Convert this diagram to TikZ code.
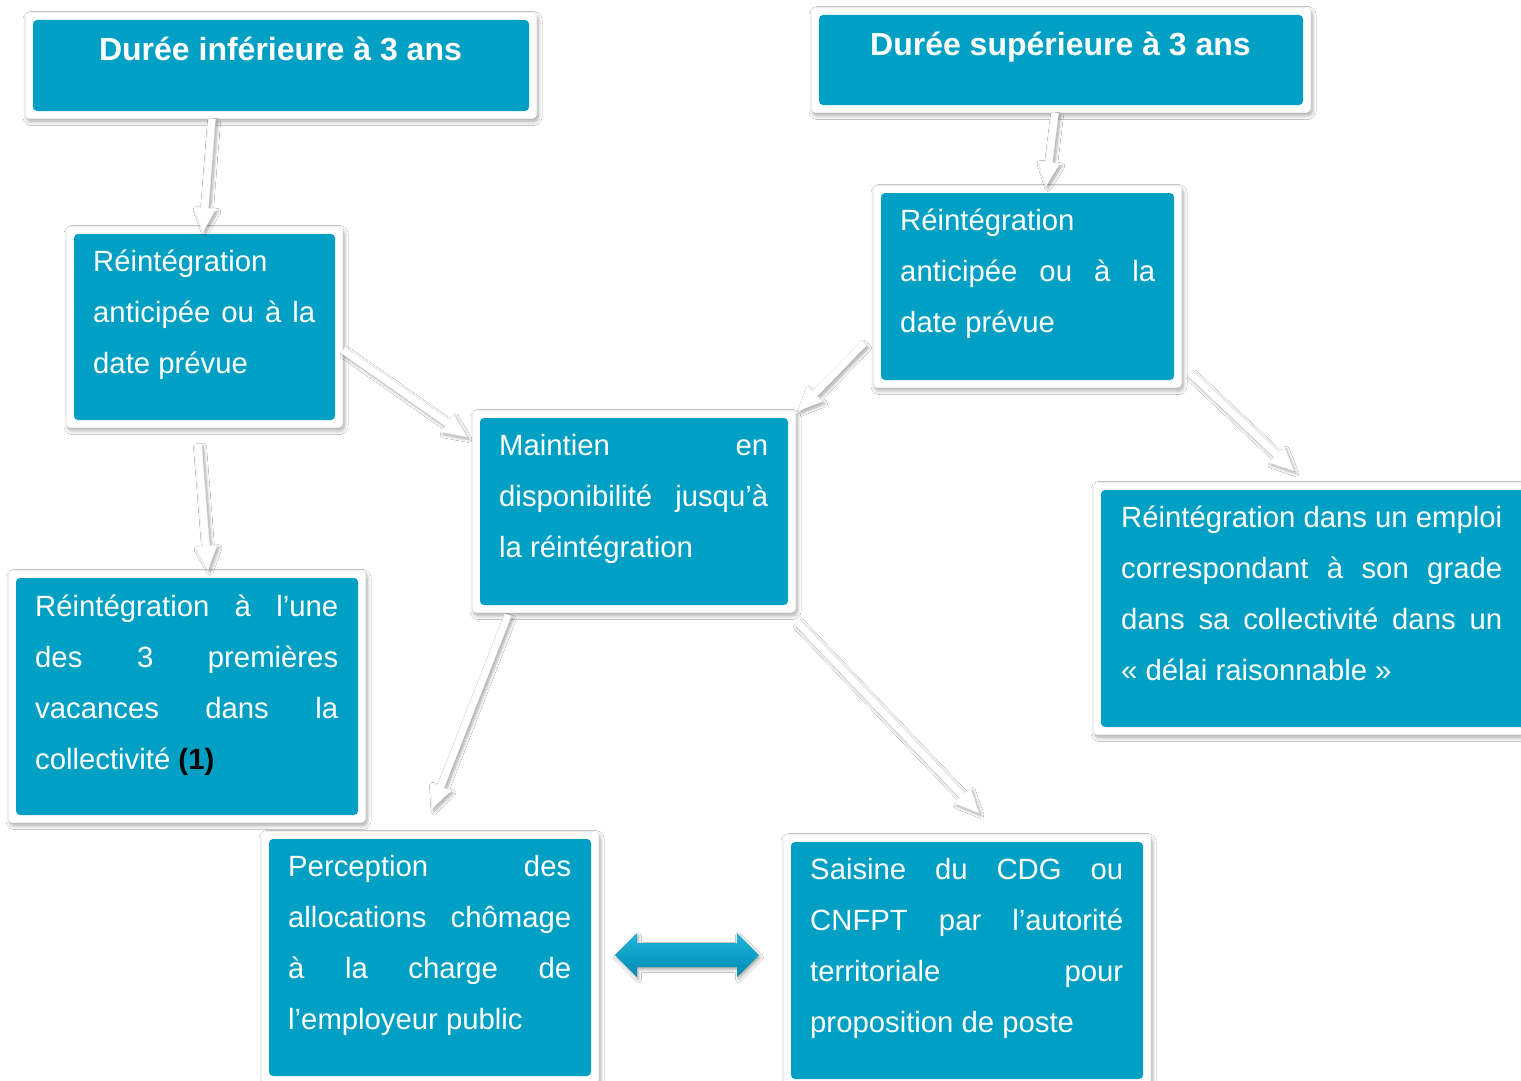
\documentclass[tikz,border=0pt]{standalone}
\usepackage{fontspec}
\setmainfont{Liberation Sans}
\usetikzlibrary{arrows.meta,calc,shadows,shadows.blur}
\definecolor{boxblue}{RGB}{0,160,196}
\definecolor{dblight}{RGB}{30,182,218}
\definecolor{dbdark}{RGB}{0,138,178}
\newcommand\jline[1]{\hbox to\linewidth{#1}}
\newcommand\lline[1]{\hbox{#1}}
\newcommand\bodytext[2]{\begin{minipage}[t]{#1}\fontsize{29.3}{51}\selectfont #2\end{minipage}}
\tikzset{
  box/.style={rectangle, fill=white, draw=black!6, line width=0.6pt, rounded corners=4pt, inner sep=0pt,
    blur shadow={shadow xshift=1.5pt, shadow yshift=-3pt, shadow blur radius=4pt, shadow blur steps=8, shadow opacity=35},
    path picture={\fill[boxblue] ([xshift=7.5pt,yshift=-7.5pt]path picture bounding box.north west)
      rectangle ([xshift=-7.5pt,yshift=7.5pt]path picture bounding box.south east);}},
  titletext/.style={anchor=base, inner sep=0pt, text=white, font=\bfseries\fontsize{32}{38}\selectfont},
  bodynode/.style={anchor=base west, inner sep=0pt, text=white},
  arrbody/.style={fill=white, draw=black!5, line width=0.4pt, line join=miter,
    blur shadow={shadow xshift=2pt, shadow yshift=-2.5pt, shadow blur radius=3pt, shadow blur steps=8, shadow opacity=35}}
}
% white block arrow from #1 to #2 (names of coordinates)
\newcommand\wharrow[2]{%
  \coordinate (#1h) at ($(#2)!24pt!(#1)$);
  \path[arrbody] ($(#1)!3.5pt!90:(#2)$) -- ($(#1h)!3.5pt!90:(#2)$) -- ($(#1h)!11pt!90:(#2)$)
    -- (#2) -- ($(#1h)!11pt!-90:(#2)$) -- ($(#1h)!3.5pt!-90:(#2)$) -- ($(#1)!3.5pt!-90:(#2)$) -- cycle;}
\begin{document}
\begin{tikzpicture}[x=1pt,y=-1pt]
\useasboundingbox (0,0) rectangle (1521,1081);
\begin{scope}
\clip (0,0) rectangle (1521,1081);
\fill[white] (0,0) rectangle (1521,1081);
% boxes
\node[box, minimum width=511pt, minimum height=106pt] (tl) at (281,65.5) {};
\node[box, minimum width=499pt, minimum height=105pt] (tr) at (1061,60) {};
\node[box, minimum width=276pt, minimum height=201pt] (rl) at (204.5,327) {};
\node[box, minimum width=308pt, minimum height=202pt] (rr) at (1027.5,286.5) {};
\node[box, minimum width=323pt, minimum height=202pt] (m) at (634,511.5) {};
\node[box, minimum width=357pt, minimum height=252pt] (v) at (187,696.5) {};
\node[box, minimum width=454pt, minimum height=252pt] (e) at (1320.5,608.5) {};
\node[box, minimum width=337pt, minimum height=252pt] (p) at (430,957.5) {};
\node[box, minimum width=367pt, minimum height=252pt] (s) at (967,960.5) {};
% texts
\node[titletext] (tlt) at (280.5,60) {Durée inférieure à 3 ans};
\node[titletext] (trt) at (1060.5,56) {Durée supérieure à 3 ans};
\node[bodynode] (rlt) at (93,271) {\bodytext{222pt}{%
  \lline{Réintégration}
  \jline{anticipée\hfill ou\hfill à\hfill la}
  \lline{date prévue}}};
\node[bodynode] (rrt) at (900,230) {\bodytext{255pt}{%
  \lline{Réintégration}
  \jline{anticipée\hfill ou\hfill à\hfill la}
  \lline{date prévue}}};
\node[bodynode] (mt) at (499,455) {\bodytext{269pt}{%
  \jline{Maintien\hfill en}
  \jline{disponibilité\hfill jusqu’à}
  \lline{la réintégration}}};
\node[bodynode] (vt) at (35,616) {\bodytext{303pt}{%
  \jline{Réintégration\hfill à\hfill l’une}
  \jline{des\hfill 3\hfill premières}
  \jline{vacances\hfill dans\hfill la}
  \lline{collectivité \textcolor{black}{\bfseries (1)}}}};
\node[bodynode] (et) at (1121,527) {\bodytext{381pt}{%
  \jline{Réintégration\hfill dans\hfill un\hfill emploi}
  \jline{correspondant\hfill à\hfill son\hfill grade}
  \jline{dans\hfill sa\hfill collectivité\hfill dans\hfill un}
  \lline{« délai raisonnable »}}};
\node[bodynode] (pt) at (288,876) {\bodytext{283pt}{%
  \jline{Perception\hfill des}
  \jline{allocations\hfill chômage}
  \jline{à\hfill la\hfill charge\hfill de}
  \lline{l’employeur public}}};
\node[bodynode] (st) at (810,879) {\bodytext{313pt}{%
  \jline{Saisine\hfill du\hfill CDG\hfill ou}
  \jline{CNFPT\hfill par\hfill l’autorité}
  \jline{territoriale\hfill pour}
  \lline{proposition de poste}}};
% arrow end points
\coordinate (a1s) at (212,119);  \coordinate (a1e) at (203,232);
\coordinate (a2s) at (198,444);  \coordinate (a2e) at (208,570);
\coordinate (a3s) at (343,350);  \coordinate (a3e) at (467,437);
\coordinate (a4s) at (1055,113); \coordinate (a4e) at (1046,186);
\coordinate (a5s) at (864,343);  \coordinate (a5e) at (798,411);
\coordinate (a6s) at (1190,373); \coordinate (a6e) at (1294,471);
\coordinate (a7s) at (508,615);  \coordinate (a7e) at (432,809);
\coordinate (a8s) at (797,622);  \coordinate (a8e) at (979,813);
\wharrow{a1s}{a1e}
\wharrow{a2s}{a2e}
\wharrow{a3s}{a3e}
\wharrow{a4s}{a4e}
\wharrow{a5s}{a5e}
\wharrow{a6s}{a6e}
\wharrow{a7s}{a7e}
\wharrow{a8s}{a8e}
% double arrow between p and s
\coordinate (dl) at (615,955);
\coordinate (dr) at (759,955);
\path[top color=dblight, bottom color=dbdark,
  blur shadow={shadow xshift=1.5pt, shadow yshift=-2.5pt, shadow blur radius=3pt, shadow opacity=35}]
  (dl) -- (637,933) -- (637,943) -- (737,943) -- (737,933) -- (dr)
  -- (737,977) -- (737,967) -- (637,967) -- (637,977) -- cycle;
\end{scope}
\end{tikzpicture}
\end{document}
